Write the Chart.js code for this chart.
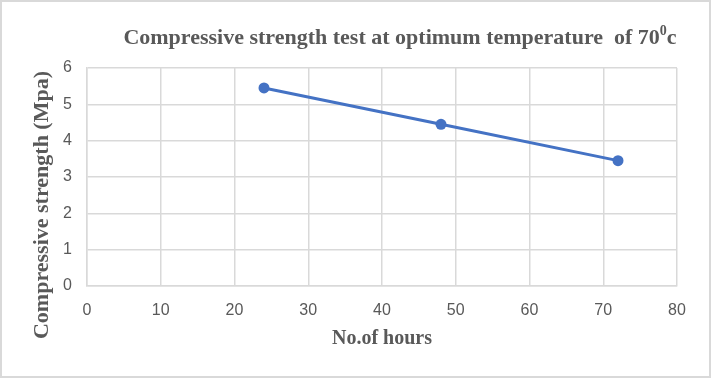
<!DOCTYPE html>
<html>
<head>
<meta charset="utf-8">
<script src="https://cdn.jsdelivr.net/npm/chart.js@4/dist/chart.umd.min.js"></script>
<style>
  html, body { margin: 0; padding: 0; background: #fff; }
  #wrap { width: 711px; height: 378px; position: relative; }
</style>
</head>
<body>
<div id="wrap"><canvas id="c" width="711" height="378"></canvas></div>
<script>
// ---- data ----
const hours = [24, 48, 72];
const strength = [5.45, 4.45, 3.45];
const xTicks = [0, 10, 20, 30, 40, 50, 60, 70, 80];
const yTicks = [0, 1, 2, 3, 4, 5, 6];
const titleMain = "Compressive strength test at optimum temperature  of 70";
const titleSup = "0";
const titleTail = "c";
const xTitle = "No.of hours";
const yTitle = "Compressive strength (Mpa)";

const GRID = '#d9d9d9';
const TEXT = '#595959';
const SERIF = '"Liberation Serif", "Times New Roman", serif';

const decor = {
  id: 'decor',
  beforeDraw(chart) {
    const ctx = chart.ctx;
    ctx.save();
    ctx.fillStyle = '#fff';
    ctx.fillRect(0, 0, chart.width, chart.height);
    ctx.strokeStyle = GRID;
    ctx.lineWidth = 2;
    ctx.strokeRect(1, 1, chart.width - 2, chart.height - 2);
    ctx.restore();
  },
  afterDraw(chart) {
    const ctx = chart.ctx;
    ctx.save();
    ctx.fillStyle = TEXT;
    ctx.textBaseline = 'middle';
    // title with superscript
    const big = 'bold 22px ' + SERIF;
    const small = 'bold 14px ' + SERIF;
    ctx.font = big;
    const w1 = ctx.measureText(titleMain).width;
    const w3 = ctx.measureText(titleTail).width;
    ctx.font = small;
    const w2 = ctx.measureText(titleSup).width;
    const total = w1 + w2 + w3;
    let x = 400 - total / 2;
    const y = 38;
    ctx.textAlign = 'left';
    ctx.font = big;
    ctx.fillText(titleMain, x, y);
    x += w1;
    ctx.font = small;
    ctx.fillText(titleSup, x, y - 7);
    x += w2;
    ctx.font = big;
    ctx.fillText(titleTail, x, y);
    // x axis title
    ctx.textAlign = 'center';
    ctx.font = 'bold 20px ' + SERIF;
    ctx.fillText(xTitle, 382, 339);
    // y axis title
    ctx.translate(42, 205);
    ctx.rotate(-Math.PI / 2);
    ctx.font = 'bold 22px ' + SERIF;
    ctx.fillText(yTitle, 0, 0);
    ctx.restore();
  }
};

new Chart(document.getElementById('c'), {
  type: 'scatter',
  data: {
    datasets: [{
      data: hours.map((h, i) => ({ x: h, y: strength[i] })),
      showLine: true,
      borderColor: '#4472C4',
      backgroundColor: '#4472C4',
      borderWidth: 3,
      pointRadius: 5.5,
      pointHoverRadius: 5.5,
      pointBorderWidth: 0,
      tension: 0
    }]
  },
  options: {
    responsive: false,
    animation: false,
    devicePixelRatio: 1,
    layout: { padding: { top: 68, left: 0, right: 34, bottom: 0 } },
    plugins: { legend: { display: false }, title: { display: false }, tooltip: { enabled: false } },
    scales: {
      x: {
        type: 'linear',
        min: xTicks[0],
        max: xTicks[xTicks.length - 1],
        afterBuildTicks(s) { s.ticks = xTicks.map(v => ({ value: v })); },
        afterFit(s) { s.height = 378 - 286; s.paddingLeft = 0; s.paddingRight = 0; },
        grid: { color: GRID, lineWidth: 1.5, drawTicks: false },
        border: { color: GRID, width: 1.5 },
        ticks: { color: TEXT, font: { family: '"Liberation Sans", Arial, sans-serif', size: 16 }, padding: 15 }
      },
      y: {
        type: 'linear',
        min: yTicks[0],
        max: yTicks[yTicks.length - 1],
        afterBuildTicks(s) { s.ticks = yTicks.map(v => ({ value: v })); },
        afterFit(s) { s.width = 87; s.paddingTop = 0; s.paddingBottom = 0; },
        grid: { color: GRID, lineWidth: 1.5, drawTicks: false },
        border: { color: GRID, width: 1.5 },
        ticks: { color: TEXT, font: { family: '"Liberation Sans", Arial, sans-serif', size: 16 }, padding: 15 }
      }
    }
  },
  plugins: [decor]
});
</script>
</body>
</html>
